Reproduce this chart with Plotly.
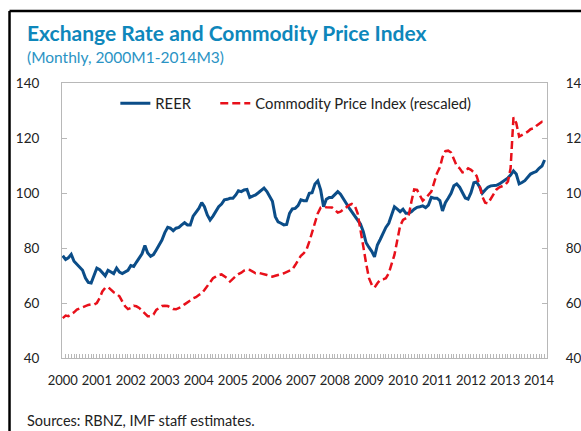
import pandas as pd
import plotly.graph_objects as go

# Monthly dates 2000M1 - 2014M3
months = pd.date_range("2000-01-01", "2014-03-01", freq="MS")

reer = [
    77.2, 75.8, 76.4, 77.7, 75.2, 74.0, 73.1, 71.9, 69.1, 67.5, 67.3, 69.9,
    72.7, 72.1, 71.2, 69.9, 71.9, 71.2, 70.7, 72.7, 71.2, 70.7, 71.2, 71.9,
    73.6, 73.3, 74.8, 76.4, 77.9, 80.9, 78.2, 77.0, 77.6, 79.3, 81.1, 82.9,
    85.6, 87.5, 87.2, 86.3, 87.2, 87.5, 88.4, 89.2, 88.4, 88.4, 91.6, 92.9,
    94.4, 96.5, 95.0, 92.0, 90.2, 91.6, 93.2, 95.0, 96.0, 97.5, 97.7, 98.1,
    98.1, 99.3, 100.8, 100.5, 101.1, 101.3, 98.4, 98.8, 99.3, 100.1, 100.8, 101.8,
    100.5, 98.9, 97.0, 91.4, 89.5, 89.0, 88.4, 88.6, 92.6, 94.2, 94.4, 95.4,
    97.5, 97.2, 97.2, 99.9, 100.1, 103.3, 104.4, 101.1, 95.0, 97.7, 98.4, 98.4,
    99.3, 100.5, 99.6, 97.7, 96.3, 94.6, 93.2, 91.6, 90.0, 88.7, 85.9, 81.9,
    80.2, 78.7, 76.8, 81.1, 83.1, 85.3, 87.5, 89.0, 92.0, 95.0, 94.1, 93.2,
    94.1, 92.6, 92.6, 93.2, 94.1, 94.8, 95.0, 95.3, 94.7, 95.6, 98.4, 98.1,
    98.1, 97.2, 93.5, 96.5, 98.1, 99.9, 102.6, 103.3, 102.1, 99.9, 98.2, 97.8,
    100.1, 103.7, 104.0, 102.3, 99.9, 101.1, 102.1, 102.6, 102.6, 102.8, 103.3, 104.0,
    104.7, 105.5, 106.5, 108.0, 106.9, 103.3, 103.8, 104.5, 105.7, 106.9, 107.4, 107.8,
    109.0, 109.8, 112.0,
]

commodity = [
    54.5, 55.4, 55.2, 55.8, 56.6, 57.6, 58.0, 58.6, 59.1, 59.3, 59.5, 59.4,
    60.0, 61.8, 64.2, 65.5, 65.8, 64.8, 63.9, 63.3, 62.4, 60.6, 58.8, 57.8,
    58.2, 59.0, 58.8, 58.2, 57.2, 56.0, 55.2, 55.2, 55.8, 57.5, 58.2, 58.9,
    59.0, 58.9, 58.4, 57.8, 57.7, 58.1, 58.7, 59.5, 60.1, 60.9, 61.7, 62.1,
    62.9, 63.5, 64.7, 66.2, 67.8, 69.0, 69.6, 70.2, 70.4, 69.8, 69.0, 67.8,
    69.0, 69.8, 70.5, 71.0, 71.8, 72.2, 72.0, 71.4, 70.8, 71.0, 70.8, 70.5,
    70.2, 69.9, 69.6, 69.9, 70.3, 70.5, 70.8, 71.2, 71.8, 72.2, 73.8, 75.6,
    77.2, 78.1, 79.3, 82.3, 85.9, 89.0, 92.6, 94.7, 95.0, 94.8, 94.8, 94.7,
    93.8, 92.9, 93.2, 94.1, 95.0, 95.6, 96.0, 95.4, 92.6, 87.2, 80.5, 74.4,
    69.0, 66.5, 65.6, 67.2, 68.4, 68.6, 69.0, 70.8, 74.4, 77.5, 82.9, 88.0,
    90.2, 91.0, 91.4, 96.8, 101.3, 101.1, 98.9, 97.2, 98.1, 99.3, 100.5, 103.8,
    107.2, 109.3, 113.0, 115.2, 115.4, 114.7, 112.3, 109.9, 109.0, 107.5, 107.8, 109.0,
    108.4, 107.5, 106.2, 102.9, 98.7, 96.5, 96.2, 97.9, 99.9, 101.3, 102.1, 102.6,
    102.9, 104.2, 109.0, 127.5, 125.5, 120.5, 121.0, 121.8, 122.3, 123.2, 123.5, 124.4,
    125.3, 125.9, 125.9,
]

year_labels = [str(y) for y in range(2000, 2015)]
year_ticks = [f"{y}-01-01" for y in range(2000, 2015)]
y_ticks = [40, 60, 80, 100, 120, 140]

FONT = "Lato"
AX = "#b8b8b8"
LEG_FONT = dict(size=14.8, family=FONT, color="#222")

fig = go.Figure()
fig.add_trace(go.Scatter(
    x=months, y=reer, name="REER", mode="lines",
    line=dict(color="#0b4d88", width=3), legend="legend",
))
fig.add_trace(go.Scatter(
    x=months, y=commodity, name="Commodity Price Index (rescaled)", mode="lines",
    line=dict(color="#e8101a", width=2.5, dash="8px,4px"),
    yaxis="y2", legend="legend2",
))

fig.update_layout(
    width=581, height=431,
    margin=dict(l=62, r=34, t=83, b=73),
    paper_bgcolor="white", plot_bgcolor="white",
    font=dict(family=FONT, color="#222222", size=13),
    showlegend=True,
    legend=dict(
        orientation="h", x=0.11, y=0.985, xanchor="left", yanchor="top",
        bgcolor="rgba(0,0,0,0)", font=LEG_FONT, itemwidth=30,
    ),
    legend2=dict(
        orientation="h", x=0.316, y=0.985, xanchor="left", yanchor="top",
        bgcolor="rgba(0,0,0,0)", font=LEG_FONT, itemwidth=30,
    ),
    xaxis=dict(
        range=["1999-12-24", "2014-03-27"],
        tickmode="array", tickvals=year_ticks, ticktext=year_labels,
        tickfont=dict(size=13), ticks="inside", ticklen=4, tickcolor=AX,
        showgrid=False, zeroline=False, automargin=False,
        showline=True, linecolor=AX, linewidth=1, mirror=True,
        ticklabelstandoff=10,
        minor=dict(dtick="M1", ticks="inside", ticklen=4, tickcolor=AX, showgrid=False),
    ),
    yaxis=dict(
        range=[40, 140], tickvals=y_ticks, tickfont=dict(size=13.5),
        ticks="inside", ticklen=5, tickcolor=AX, automargin=False,
        showgrid=False, zeroline=False,
        showline=True, linecolor=AX, linewidth=1, ticklabelstandoff=19,
    ),
    yaxis2=dict(
        range=[40, 140], tickvals=y_ticks, tickfont=dict(size=13.5),
        overlaying="y", side="right", automargin=False,
        ticks="inside", ticklen=5, tickcolor=AX,
        showgrid=False, zeroline=False,
        showline=True, linecolor=AX, linewidth=1, ticklabelstandoff=15,
    ),
)

fig.add_annotation(
    text="<b>Exchange Rate and Commodity Price Index</b>",
    xref="paper", yref="paper", x=-0.0763, y=1.182, xanchor="left", yanchor="middle",
    showarrow=False, font=dict(size=21, color="#0e87bb", family=FONT),
)
fig.add_annotation(
    text="(Monthly, 2000M1-2014M3)",
    xref="paper", yref="paper", x=-0.0763, y=1.094, xanchor="left", yanchor="middle",
    showarrow=False, font=dict(size=15.5, color="#2a93c4", family=FONT),
)
fig.add_annotation(
    text="Sources: RBNZ, IMF staff estimates.",
    xref="paper", yref="paper", x=-0.0763, y=-0.229, xanchor="left", yanchor="middle",
    showarrow=False, font=dict(size=14.5, color="#222222", family=FONT),
)

# outer black frame (left and top edges visible)
fig.add_shape(type="line", xref="paper", yref="paper",
              x0=-0.1082, x1=-0.1082, y0=1.262, y1=-0.4,
              line=dict(color="black", width=2.5))
fig.add_shape(type="line", xref="paper", yref="paper",
              x0=-0.1082, x1=1.3, y0=1.262, y1=1.262,
              line=dict(color="black", width=2.5))

# remove the default page margin so the figure sits at the window's top-left corner
fig.write_html(
    "out.html",
    config={"displayModeBar": False},
    post_script="document.body.style.margin='0';",
)
